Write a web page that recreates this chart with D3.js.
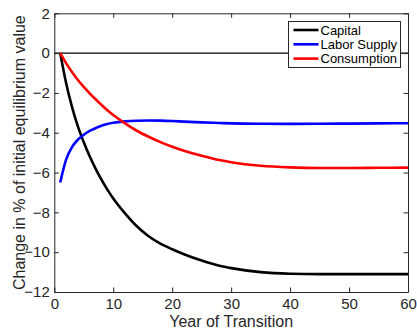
<!DOCTYPE html>
<html>
<head>
<meta charset="utf-8">
<script src="https://cdn.jsdelivr.net/npm/d3@7"></script>
<style>
  html, body { margin: 0; padding: 0; background: #fff; }
  svg { display: block; }
  text { font-family: "Liberation Sans", Arial, Helvetica, sans-serif; }
</style>
</head>
<body>
<svg id="chart" width="417" height="329"></svg>
<script>
// Years of the transition path at which each series is sampled
const years = [1, 2, 3, 4, 5, 6, 7, 8, 9, 10, 12, 14, 16, 18, 20, 22, 25, 28, 30, 35, 40, 45, 50, 55, 60];

// Change in % of the initial equilibrium value
const capital = [0, -1.5, -2.7, -3.68, -4.48, -5.18, -5.8, -6.36, -6.86, -7.3, -8.05, -8.7, -9.2, -9.57, -9.85, -10.1, -10.42, -10.68, -10.8, -11.0, -11.08, -11.1, -11.1, -11.1, -11.1];
const laborSupply = [-6.5, -5.35, -4.72, -4.35, -4.1, -3.91, -3.77, -3.65, -3.56, -3.5, -3.43, -3.395, -3.385, -3.39, -3.41, -3.44, -3.48, -3.51, -3.53, -3.55, -3.555, -3.55, -3.54, -3.53, -3.52];
const consumption = [0, -0.5, -0.95, -1.35, -1.7, -2.02, -2.32, -2.6, -2.87, -3.11, -3.53, -3.9, -4.2, -4.47, -4.7, -4.9, -5.15, -5.37, -5.48, -5.66, -5.74, -5.77, -5.77, -5.76, -5.75];

const seriesNames = ["Capital", "Labor Supply", "Consumption"];
const seriesColors = ["#000000", "#0000ff", "#ff0000"];

const xTicks = [0, 10, 20, 30, 40, 50, 60];
const yTicks = [-12, -10, -8, -6, -4, -2, 0, 2];

const xLabel = "Year of Transition";
const yLabel = "Change in % of initial equilibrium value";

const svg = d3.select("#chart");
const margin = { left: 54.3, top: 13.3, right: 9, bottom: 37 };
const W = 417, H = 329;
const x = d3.scaleLinear().domain([0, 60]).range([margin.left, W - margin.right]);
const y = d3.scaleLinear().domain([-12, 2]).range([H - margin.bottom, margin.top]);

const axisColor = "#262626";
const tickLen = 4.5;

// zero reference line
svg.append("line")
  .attr("x1", x(0)).attr("x2", x(60))
  .attr("y1", y(0)).attr("y2", y(0))
  .attr("stroke", "#000").attr("stroke-width", 1.1);

// series lines
const series = [capital, laborSupply, consumption];
const line = d3.line()
  .x(d => x(d[0]))
  .y(d => y(d[1]))
  .curve(d3.curveMonotoneX);

series.forEach((vals, i) => {
  svg.append("path")
    .datum(years.map((t, k) => [t, vals[k]]))
    .attr("d", line)
    .attr("fill", "none")
    .attr("stroke", seriesColors[i])
    .attr("stroke-width", 2.6)
    .attr("stroke-linejoin", "round");
});

// axes: box with inward ticks on all four sides
const fontTick = 15;
const axBottom = svg.append("g").attr("transform", `translate(0,${y(-12)})`)
  .call(d3.axisBottom(x).tickValues(xTicks).tickSizeInner(-tickLen).tickSizeOuter(0).tickPadding(6.2));
const axTop = svg.append("g").attr("transform", `translate(0,${y(2)})`)
  .call(d3.axisTop(x).tickValues(xTicks).tickSizeInner(-tickLen).tickSizeOuter(0).tickFormat(""));
const axLeft = svg.append("g").attr("transform", `translate(${x(0)},0)`)
  .call(d3.axisLeft(y).tickValues(yTicks).tickSizeInner(-tickLen).tickSizeOuter(0).tickPadding(4.5));
const axRight = svg.append("g").attr("transform", `translate(${x(60)},0)`)
  .call(d3.axisRight(y).tickValues(yTicks).tickSizeInner(-tickLen).tickSizeOuter(0).tickFormat(""));

[axBottom, axTop, axLeft, axRight].forEach(g => {
  g.select(".domain").attr("stroke", axisColor).attr("stroke-width", 1);
  g.selectAll(".tick line").attr("stroke", axisColor).attr("stroke-width", 1);
  g.selectAll(".tick text")
    .attr("fill", axisColor)
    .style("font-size", fontTick + "px")
    .style("font-family", '"Liberation Sans", Arial, sans-serif');
});

// axis titles
svg.append("text")
  .attr("x", (x(0) + x(60)) / 2)
  .attr("y", 327)
  .attr("text-anchor", "middle")
  .attr("fill", axisColor)
  .style("font-size", "16px")
  .text(xLabel);

svg.append("text")
  .attr("transform", `translate(25,${(y(2) + y(-12)) / 2}) rotate(-90)`)
  .attr("text-anchor", "middle")
  .attr("fill", axisColor)
  .style("font-size", "16px")
  .text(yLabel);

// legend
const lg = svg.append("g");
lg.append("rect")
  .attr("x", 288.5).attr("y", 21.5)
  .attr("width", 112).attr("height", 46)
  .attr("fill", "#fff")
  .attr("stroke", axisColor).attr("stroke-width", 1);

seriesNames.forEach((name, i) => {
  const cy = 30 + i * 14.3;
  lg.append("line")
    .attr("x1", 293.5).attr("x2", 318.5)
    .attr("y1", cy).attr("y2", cy)
    .attr("stroke", seriesColors[i]).attr("stroke-width", 2.6);
  lg.append("text")
    .attr("x", 320.5).attr("y", cy + 4.6)
    .attr("fill", "#000")
    .style("font-size", "13px")
    .text(name);
});
</script>
</body>
</html>
